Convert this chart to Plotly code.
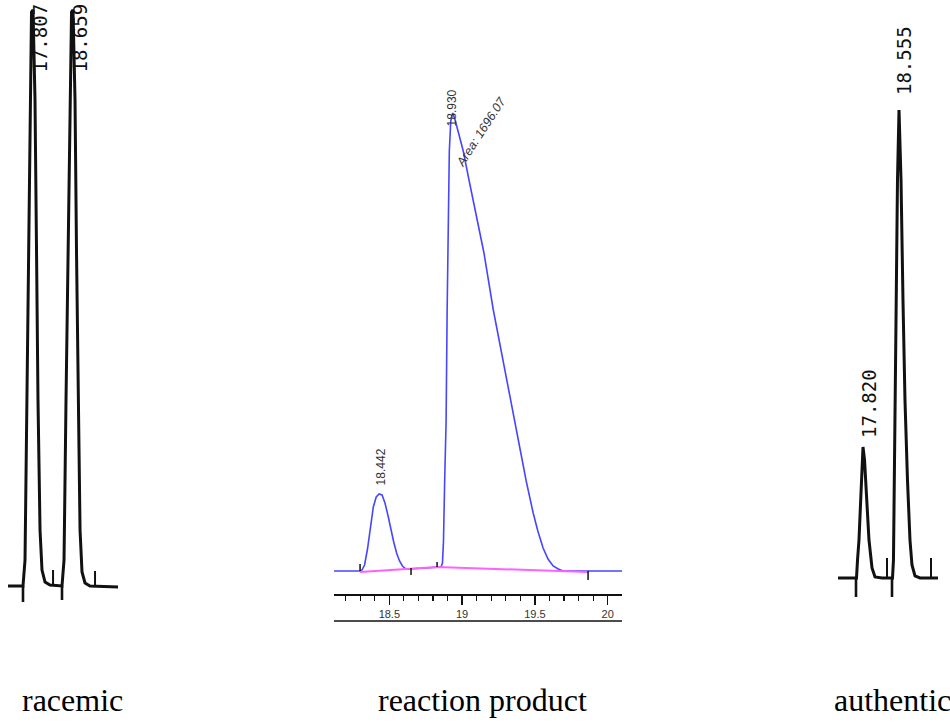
import plotly.graph_objects as go

W, H = 950, 725

# ---------------- racemic (integrator trace) ----------------
rac_time = [17.285, 17.611, 17.655, 17.698, 17.742, 17.774, 17.796, 17.829, 17.872, 17.905,
            17.937, 17.981, 18.024, 18.090, 18.198, 18.459, 18.503, 18.546, 18.590, 18.633,
            18.666, 18.698, 18.742, 18.774, 18.807, 18.851, 18.894, 18.959, 19.068, 19.677]
rac_signal = [0, 0, 26, 186, 336, 486, 574, 576, 486, 336,
              186, 56, 16, 4, 1, 0, 26, 186, 336, 486,
              574, 576, 486, 336, 186, 56, 14, 3, 0, -1]
rac_start_marks = [17.611, 18.459]
rac_start_depth = [-16, -14]
rac_end_marks = [18.264, 19.177]
rac_end_height = [16, 15]
rac_peak_labels = ["17.807", "18.659"]
rac_label_time = [17.959, 18.829]
rac_label_base = [511, 511]

# ---------------- reaction product (HPLC software trace) ----------------
rp_time = [18.120, 18.300, 18.312, 18.330, 18.350, 18.370, 18.390, 18.410, 18.430, 18.450,
           18.470, 18.490, 18.510, 18.530, 18.550, 18.570, 18.590, 18.610, 18.630, 18.700,
           18.800, 18.855, 18.865, 18.872, 18.880, 18.890, 18.897, 18.903, 18.912, 18.922,
           18.935, 18.950, 18.970, 19.006, 19.050, 19.103, 19.150, 19.213, 19.260, 19.309,
           19.350, 19.398, 19.440, 19.488, 19.520, 19.556, 19.590, 19.625, 19.660, 19.694,
           19.800, 20.098]
rp_signal = [0, 0, 1, 6, 22, 45, 64, 74, 77, 76,
             68, 56, 42, 29, 18, 10, 5, 2.5, 2, 2.5,
             3.5, 4, 8, 30, 90, 150, 260, 350, 420, 450,
             458, 452, 440, 421, 389, 350, 318, 262, 226, 192,
             160, 121, 90, 58, 40, 23, 12, 5, 2, 0,
             0, 0]
rp_base_time = [18.299, 18.649, 18.828, 19.865]
rp_base_signal = [-1, 2, 4, -1]
rp_mark_time = [18.299, 18.649, 18.828, 19.865]
rp_mark_from = [0, 3, 4, 0]
rp_mark_to = [7, -4, 9, -9]
rp_peak_labels = ["18.442", "18.930"]
rp_label_time = [18.442, 18.930]
rp_label_base = [84, 443]
rp_area_text = "Area: 1696.07"
rp_area_time = 19.130
rp_area_signal = 439
rp_tick_vals = [18.5, 19, 19.5, 20]
rp_tick_text = ["18.5", "19", "19.5", "20"]

# ---------------- authentic (integrator trace) ----------------
au_time = [17.310, 17.687, 17.708, 17.738, 17.773, 17.800, 17.820, 17.851, 17.896, 17.942,
           18.004, 18.065, 18.208, 18.422, 18.442, 18.463, 18.483, 18.504, 18.524, 18.555,
           18.596, 18.636, 18.677, 18.728, 18.779, 18.820, 18.881, 18.983, 19.351]
au_signal = [0, 0, 18, 38, 78, 108, 131, 118, 78, 38,
             10, 1, 0, 0, 18, 128, 228, 318, 398, 468,
             398, 278, 178, 98, 38, 13, 2, 0, 0]
au_start_marks = [17.677, 18.412]
au_start_depth = [-19, -19]
au_end_marks = [18.310, 19.208]
au_end_height = [20, 20]
au_peak_labels = ["17.820", "18.555"]
au_label_time = [17.932, 18.647]
au_label_base = [138, 481]

captions = ["racemic", "reaction product", "authentic"]


def segments(times, y0s, y1s):
    xs, ys = [], []
    for t, a, b in zip(times, y0s, y1s):
        xs += [t, t, None]
        ys += [a, b, None]
    return xs, ys


fig = go.Figure()

# racemic
fig.add_trace(go.Scatter(x=rac_time, y=rac_signal, mode="lines",
                         line=dict(color="#111111", width=3), xaxis="x", yaxis="y"))
sx, sy = segments(rac_start_marks, [0] * len(rac_start_marks), rac_start_depth)
fig.add_trace(go.Scatter(x=sx, y=sy, mode="lines", line=dict(color="#111111", width=2.6),
                         xaxis="x", yaxis="y"))
sx, sy = segments(rac_end_marks, [0] * len(rac_end_marks), rac_end_height)
fig.add_trace(go.Scatter(x=sx, y=sy, mode="lines", line=dict(color="#111111", width=2),
                         xaxis="x", yaxis="y"))

# reaction product
fig.add_trace(go.Scatter(x=rp_time, y=rp_signal, mode="lines",
                         line=dict(color="#4646ff", width=1.6), xaxis="x2", yaxis="y2"))
fig.add_trace(go.Scatter(x=rp_base_time, y=rp_base_signal, mode="lines",
                         line=dict(color="#ff60ff", width=2), xaxis="x2", yaxis="y2"))
sx, sy = segments(rp_mark_time, rp_mark_from, rp_mark_to)
fig.add_trace(go.Scatter(x=sx, y=sy, mode="lines", line=dict(color="#111111", width=1.5),
                         xaxis="x2", yaxis="y2"))

# authentic
fig.add_trace(go.Scatter(x=au_time, y=au_signal, mode="lines",
                         line=dict(color="#111111", width=3), xaxis="x3", yaxis="y3"))
sx, sy = segments(au_start_marks, [0] * len(au_start_marks), au_start_depth)
fig.add_trace(go.Scatter(x=sx, y=sy, mode="lines", line=dict(color="#111111", width=2.6),
                         xaxis="x3", yaxis="y3"))
sx, sy = segments(au_end_marks, [0] * len(au_end_marks), au_end_height)
fig.add_trace(go.Scatter(x=sx, y=sy, mode="lines", line=dict(color="#111111", width=2),
                         xaxis="x3", yaxis="y3"))

annotations = []
mono = dict(family="DejaVu Sans Mono", size=19, color="#111111")
for txt, t, b in zip(rac_peak_labels, rac_label_time, rac_label_base):
    annotations.append(dict(x=t, y=b, xref="x", yref="y", text=txt, showarrow=False,
                            textangle=-90, xanchor="center", yanchor="bottom", font=mono))
for txt, t, b in zip(au_peak_labels, au_label_time, au_label_base):
    annotations.append(dict(x=t, y=b, xref="x3", yref="y3", text=txt, showarrow=False,
                            textangle=-90, xanchor="center", yanchor="bottom", font=mono))
small = dict(family="Liberation Sans", size=12, color="#333333")
for txt, t, b in zip(rp_peak_labels, rp_label_time, rp_label_base):
    annotations.append(dict(x=t, y=b, xref="x2", yref="y2", text=txt, showarrow=False,
                            textangle=-90, xanchor="center", yanchor="bottom", font=small))
annotations.append(dict(x=rp_area_time, y=rp_area_signal, xref="x2", yref="y2",
                        text="<i>" + rp_area_text + "</i>", showarrow=False, textangle=-57,
                        xanchor="center", yanchor="middle",
                        font=dict(family="Liberation Sans", size=12.5, color="#333333")))

cap_font = dict(family="Liberation Serif", size=32, color="#000000")
cap_x = [20, 376, 832]
for txt, px in zip(captions, cap_x):
    annotations.append(dict(x=px / W, y=1 - 700 / H, xref="paper", yref="paper", text=txt,
                            showarrow=False, xanchor="left", yanchor="middle", font=cap_font))

hidden = dict(visible=False)
fig.update_layout(
    width=W, height=H,
    margin=dict(l=0, r=0, t=0, b=0),
    paper_bgcolor="white", plot_bgcolor="white",
    showlegend=False,
    xaxis=dict(domain=[0, 142.5 / W], range=[17.111, 20.209], **hidden),
    yaxis=dict(domain=[0, 1], range=[-139, 586], anchor="x", **hidden),
    xaxis2=dict(domain=[334 / W, 622 / W], range=[18.120, 20.098], anchor="free",
                position=1 - 594 / H, showline=True, linecolor="#111111", linewidth=1.6,
                ticks="outside", ticklen=9, tickwidth=1.3, tickcolor="#111111",
                tickvals=rp_tick_vals, ticktext=rp_tick_text, showgrid=False, zeroline=False,
                tickfont=dict(family="Liberation Sans", size=11, color="#333333"),
                minor=dict(ticks="outside", ticklen=5, tickwidth=1.2, tickcolor="#111111",
                           tick0=18.0, dtick=0.1, showgrid=False)),
    yaxis2=dict(domain=[0, 1], range=[-154, 571], anchor="x2", **hidden),
    xaxis3=dict(domain=[820 / W, 1.0], range=[16.942, 19.596], **hidden),
    yaxis3=dict(domain=[0, 1], range=[-147, 578], anchor="x3", **hidden),
    annotations=annotations,
    shapes=[dict(type="line", xref="x2 domain", yref="paper", x0=0, x1=1,
                 y0=1 - 621 / H, y1=1 - 621 / H, line=dict(color="#111111", width=1.6))],
)

fig.write_html("out.html", config={"displayModeBar": False, "staticPlot": True},
               post_script="document.body.style.margin='0px';document.body.style.padding='0px';")
